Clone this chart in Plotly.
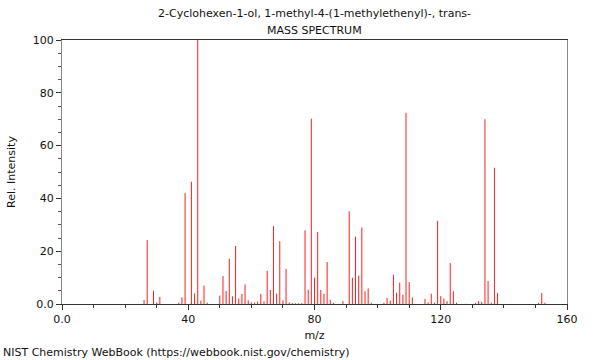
import plotly.graph_objects as go

mz = [26, 27, 29, 30, 31, 37, 38, 39, 41, 42, 43, 44, 45, 46,
      50, 51, 52, 53, 54, 55, 56, 57, 58, 59, 60, 61, 62, 63, 64, 65, 66, 67, 68, 69,
      70, 71, 72, 73, 74, 75, 76, 77, 78, 79, 80, 81, 82, 83, 84, 85, 86, 89,
      91, 92, 93, 94, 95, 96, 97, 98, 102, 103, 104, 105, 106, 107, 108, 109, 110, 111,
      115, 116, 117, 118, 119, 120, 121, 122, 123, 124, 125, 128, 131, 132, 133, 134,
      135, 136, 137, 138, 151, 152, 153]
intensity = [1.5, 24.2, 5.0, 0.6, 2.7, 0.5, 2.5, 42.0, 46.3, 4.0, 100.0, 1.3, 7.0, 0.5,
             3.2, 10.6, 4.9, 17.2, 2.9, 22.0, 2.1, 3.8, 7.4, 1.4, 0.6, 0.5, 0.9, 3.8, 1.0, 12.6, 5.3, 29.5, 3.9, 23.8,
             1.4, 13.3, 0.6, 0.3, 0.3, 0.3, 0.3, 27.9, 5.4, 70.2, 10.0, 27.3, 5.3, 3.9, 15.9, 1.6, 0.4, 1.1,
             35.1, 10.0, 25.5, 10.7, 29.0, 4.8, 5.9, 0.5, 0.5, 2.3, 1.3, 11.1, 4.3, 8.1, 3.5, 72.4, 8.3, 2.5,
             1.9, 0.6, 3.9, 0.5, 31.5, 3.0, 2.1, 1.1, 15.5, 4.8, 0.5, 0.1, 0.4, 1.1, 0.8, 70.0,
             8.7, 0.5, 51.6, 4.2, 0.4, 4.2, 0.5]

x_major = [0, 40, 80, 120, 160]
x_major_labels = ["0.0", "40", "80", "120", "160"]
y_major = [0, 20, 40, 60, 80, 100]
y_major_labels = ["0.0", "20", "40", "60", "80", "100"]

xs, ys = [], []
for m, v in zip(mz, intensity):
    xs += [m, m, None]
    ys += [0, v, None]

FONT = "DejaVu Sans"
fig = go.Figure()
fig.add_trace(go.Scatter(x=xs, y=ys, mode="lines",
                         line=dict(color="rgb(255,30,30)", width=1),
                         hoverinfo="skip", showlegend=False))

fig.update_layout(
    width=600, height=360,
    margin=dict(l=62, r=33, t=40, b=56, autoexpand=False),
    paper_bgcolor="white", plot_bgcolor="white",
    font=dict(family=FONT, size=11, color="#111"),
    showlegend=False,
    xaxis=dict(range=[0, 160], tickvals=x_major, ticktext=x_major_labels,
               ticks="outside", ticklen=5, tickcolor="#333",
               showgrid=False, zeroline=False, automargin=False,
               showline=True, linecolor="#333", linewidth=1, mirror=True,
               minor=dict(dtick=10, tick0=0, ticks="outside", ticklen=3, tickcolor="#333"),
               title=dict(text="m/z", font=dict(size=11), standoff=6),
               tickfont=dict(size=11)),
    yaxis=dict(range=[0, 100], tickvals=y_major, ticktext=y_major_labels,
               ticks="outside", ticklen=5, tickcolor="#333",
               showgrid=False, zeroline=False, automargin=False,
               showline=True, linecolor="#888", linewidth=1, mirror=True,
               minor=dict(dtick=5, tick0=0, ticks="outside", ticklen=3, tickcolor="#555"),
               title=dict(text="Rel. Intensity", font=dict(size=11), standoff=14),
               tickfont=dict(size=11)),
    annotations=[
        dict(text="2-Cyclohexen-1-ol, 1-methyl-4-(1-methylethenyl)-, trans-",
             xref="paper", yref="paper", x=0.5, y=1, yshift=27, xanchor="center",
             yanchor="middle", showarrow=False, font=dict(size=11)),
        dict(text="MASS SPECTRUM", xref="paper", yref="paper", x=0.5, y=1, yshift=10,
             xanchor="center", yanchor="middle", showarrow=False, font=dict(size=11)),
        dict(text="NIST Chemistry WebBook (https://webbook.nist.gov/chemistry)",
             xref="paper", yref="paper", x=-61/505, y=0, yshift=-48, xanchor="left",
             yanchor="middle", showarrow=False, font=dict(size=11)),
    ],
)

fig.write_html("out.html", config={"displayModeBar": False, "staticPlot": True},
               post_script="document.body.style.margin='0';document.body.style.padding='0';")
